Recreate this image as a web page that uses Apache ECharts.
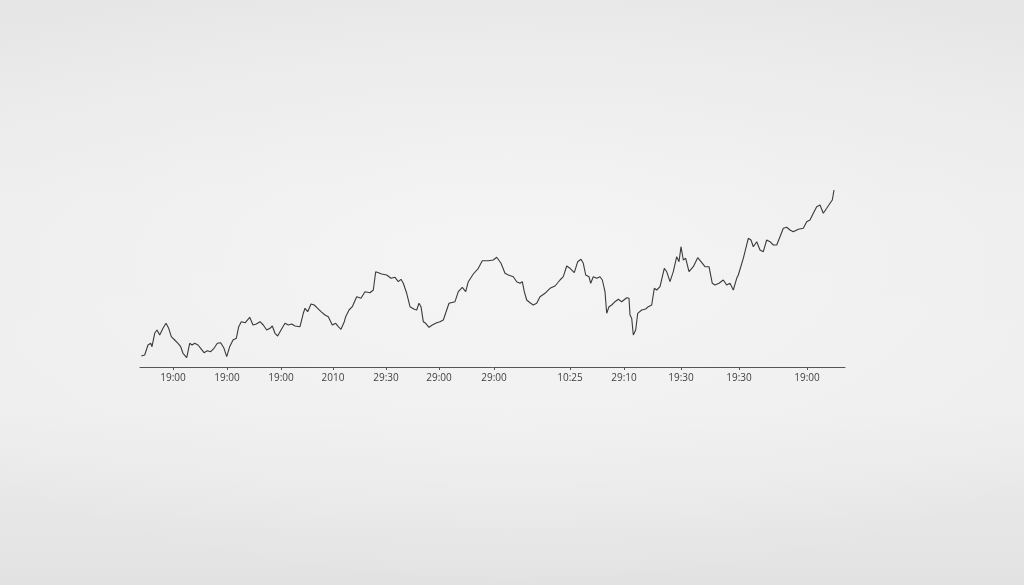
<!DOCTYPE html>
<html>
<head>
<meta charset="utf-8">
<script src="https://cdn.jsdelivr.net/npm/echarts@6/dist/echarts.min.js"></script>
<style>
  html, body { margin: 0; padding: 0; width: 1024px; height: 585px; overflow: hidden; }
  body {
    background:
      radial-gradient(ellipse 70% 55% at 50% 45%, rgba(245,245,245,0.9) 0%, rgba(240,240,240,0) 100%),
      linear-gradient(to bottom, #e6e6e6 0%, #ededed 35%, #eeeeee 70%, #e9e9e9 82%, #e2e2e2 100%);
  }
  #chart { width: 1024px; height: 585px; }
</style>
</head>
<body>
<div id="chart"></div>
<script>
// time offset (units along x axis)
const times = [1.3,4.7,8,10.7,12,14.7,17,19.7,23,26,28.7,31.3,34.7,38,40.7,43,44.7,46.7,49.7,52,54.7,58,60.7,64,67.3,70.7,74,77.3,80.7,84,86.7,89.7,93,96.3,98.7,101.3,105.3,109.7,113,116.3,
120,123.3,126.7,130,132.3,135,137.7,141,145,148.3,151.7,155,160,163.3,165,167.7,171,174.3,177.7,181,185,188.3,192.3,195.7,198.3,201,204.3,205.7,209,212.3,216.7,221,225,230,233.3,235.7,237.7,
241.7,246.7,251,255,258.3,261,263.3,266.7,270,274.3,276.7,279,281,283.3,285.7,289,292.3,296.7,300,303.3,306.7,309,315,318.3,322.3,325.7,328.3,333.3,338.3,342.3,348.3,353.3,356.7,
358.3,361,365,368.3,373.3,376.7,380,382.3,384.3,386.7,390,393.3,396.7,400,405,410,415,420,423.3,426.7,430,434.3,437.7,441,443.3,445.7,449,450.7,453.3,456.7,460,462.3,465,466.7,469,471.7,475,478.3,
481.7,486.7,489,490,491.7,493.3,495.7,497.7,501.7,505.7,508.3,511.7,514.3,516.7,520,524.3,526.7,530,533.3,536.7,539,541,543.3,545.7,549,553.3,557.7,561,565,569,572.3,575,579,583.3,586.7,590,593.3,596.7,
598.3,603.3,608.3,611,613.3,616.7,620,623.3,626.7,630,633.3,636.7,640,643.3,646.7,650,653.3,658.3,663.3,666.7,670,673.3,676.7,680,683.3,686.7,690,692.3,694];

// price values
const prices = [11,12,22,23.7,20.3,33.7,37,32,38.7,43.7,38.7,30.3,27,23.7,20.3,13.7,15.3,9.3,23.7,22,23.7,22,18.7,14.3,16.3,15.3,18.7,23.7,24.3,18.7,10.3,20.3,27,28.7,40.3,45.3,44.3,49.7,42,43,
45.3,42,37,38.7,41,33.7,31,37,43.7,42,43,41,40.3,53.7,58.7,55.3,63,62,58.7,55.3,52,50.3,42,43.7,40.3,37.7,45.3,50.3,57,60.3,70.3,68.7,75.3,74.3,77,95.3,96.3,
93,92,88.7,89.7,85.3,87.7,83.7,73.7,60.3,57.7,57,63.7,60.3,45.3,43.7,39.7,42,44.3,45.3,47,57,63.7,65.3,75.3,79.7,75.3,85.3,93,98.7,106.3,106.3,107,109.7,
108.7,103.7,93.7,92,90.3,85.3,83.7,85.3,75.3,67,64.3,62,63.7,70.3,73.7,78.7,81,87,90.3,101,98.7,94.3,105.3,107.7,103.7,92,90.3,83.7,90.3,88.7,90.3,87,75.3,53.7,60.3,62,65.3,67.7,
65.3,69.3,68.7,52,48.7,32,37,53.7,57,58,60.3,62,78.7,77,80.3,98.7,95.3,85.3,95.3,110.3,105.3,120.3,107,108.7,95.3,100.3,109.3,105.3,100.3,100.3,83.7,82,83.7,87,82,83.7,77,88.7,
92,108.7,128.7,127,120.3,125.3,117,115.3,127,125.3,122,122,130.3,138.7,139.7,137,135.3,137.7,138.7,145.3,147,153.7,160.3,162,153.7,158.7,163.7,167,177];

// axis tick positions and labels
const tickTimes  = [33, 87, 141, 193, 246, 299, 354, 430, 484, 541, 599, 667];
const tickLabels = ['19:00','19:00','19:00','2010','29:30','29:00','29:00','10:25','29:10','19:30','19:30','19:00'];

const seriesData = times.map((t, i) => [t, prices[i]]);

const chart = echarts.init(document.getElementById('chart'), null, { renderer: 'canvas' });
chart.setOption({
  backgroundColor: 'transparent',
  animation: false,
  grid: { left: 140, right: 179, top: 167, bottom: 218, containLabel: false, outerBoundsMode: 'none' },
  xAxis: {
    type: 'value',
    min: 0,
    max: 705,
    splitLine: { show: false },
    axisLine: { show: true, lineStyle: { color: '#555555', width: 1 } },
    axisTick: { show: true, length: 3, lineStyle: { color: '#555555' }, customValues: tickTimes },
    axisLabel: {
      customValues: tickTimes,
      color: '#3f3f3f',
      fontSize: 10,
      margin: 6,
      fontFamily: 'Open Sans',
      formatter: function (v) {
        const i = tickTimes.indexOf(v);
        return i >= 0 ? tickLabels[i] : '';
      }
    }
  },
  yAxis: {
    type: 'value',
    min: 0,
    max: 200,
    show: false,
    splitLine: { show: false }
  },
  series: [{
    type: 'line',
    data: seriesData,
    symbol: 'none',
    smooth: false,
    lineStyle: { color: '#3a3a3a', width: 1.1 }
  }]
});
</script>
</body>
</html>
